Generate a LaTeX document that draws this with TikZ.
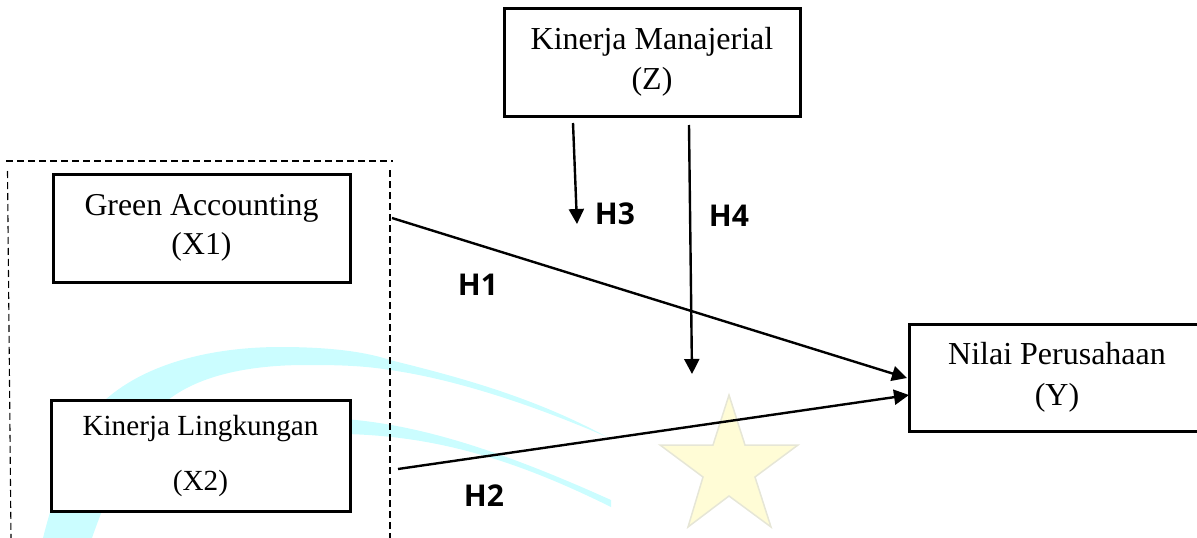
\documentclass[tikz,border=0pt]{standalone}
\usepackage{fontspec}
\setmainfont{Liberation Serif}
\newfontfamily\hfont{Open Sans}
\usetikzlibrary{arrows.meta}
\tikzset{
  varbox/.style={draw=black,line width=3pt,fill=white,align=center,inner sep=0pt},
  hlabel/.style={font=\hfont\bfseries\fontsize{30}{34}\selectfont,inner sep=0pt},
  link/.style={black,line width=2.4pt},
  linkarrow/.style={link,-{Triangle[length=15pt,width=15pt]}},
  dashline/.style={black,line width=1.1pt,dash pattern=on 7pt off 4pt},
  swoosh/.style={fill=swooshcyan,draw=none}
}
\definecolor{swooshcyan}{HTML}{CBFDFF}
\definecolor{staryellow}{HTML}{FFFCD6}
\definecolor{staredge}{HTML}{E6E6D6}
\begin{document}
\begin{tikzpicture}[x=1pt,y=-1pt]
\useasboundingbox (0,0) rectangle (1197,538);
% watermark
\fill[swoosh] (43,538) .. controls (55,490) and (75,435) .. (105,400)
  .. controls (150,360) and (220,347) .. (280,347)
  .. controls (320,347) and (360,350) .. (390,360)
  .. controls (450,375) and (530,395) .. (607,437)
  .. controls (540,408) and (460,380) .. (390,370)
  .. controls (360,365) and (330,365) .. (306,365)
  .. controls (250,365) and (200,375) .. (168,400)
  .. controls (130,440) and (105,500) .. (92,538) -- cycle;
\fill[swoosh] (345,419) .. controls (420,425) and (500,450) .. (611,500)
  -- (611,507) .. controls (520,462) and (440,436) .. (345,434) -- cycle;
\fill[staryellow,draw=staredge,line width=1.5pt]
  (729,395) -- (745,445) -- (798,445) -- (755,477) -- (771,527)
  -- (729,496) -- (688,527) -- (703,477) -- (660,445) -- (713,445) -- cycle;
% dashed group
\coordinate (gtl) at (6,161);
\coordinate (gtr) at (393,161);
\coordinate (gl1) at (7.5,171);
\coordinate (gl2) at (11,538);
\coordinate (gr1) at (390,170);
\coordinate (gr2) at (390,538);
\draw[dashline] (gtl) -- (gtr);
\draw[dashline] (gl1) -- (gl2);
\draw[dashline] (gr1) -- (gr2);
% boxes
\node[varbox,minimum width=297pt,minimum height=108pt,font=\fontsize{31.8}{39}\selectfont] (x1) at (201.5,228) {Green Accounting\\(X1)};
\node[varbox,minimum width=299pt,minimum height=111pt,font=\fontsize{29.2}{55}\selectfont] (x2) at (200.5,455.5) {\raisebox{-3pt}{Kinerja Lingkungan}\\\raisebox{-3pt}{(X2)}};
\node[varbox,minimum width=296pt,minimum height=108pt,font=\fontsize{32}{40}\selectfont] (z) at (652,62) {Kinerja Manajerial\\(Z)};
\node[varbox,minimum width=296pt,minimum height=107pt,font=\fontsize{32}{41}\selectfont] (y) at (1057,377.5) {Nilai Perusahaan\\(Y)};
% connector ends
\coordinate (a1s) at (392,218);
\coordinate (a1e) at (907,378);
\coordinate (a2s) at (398,469);
\coordinate (a2e) at (909,395);
\coordinate (a3s) at (573,123);
\coordinate (a3e) at (577,224);
\coordinate (a4s) at (689,125);
\coordinate (a4e) at (692,374);
\draw[linkarrow] (a1s) -- (a1e);
\draw[linkarrow] (a2s) -- (a2e);
\draw[linkarrow] (a3s) -- (a3e);
\draw[linkarrow] (a4s) -- (a4e);
% labels
\node[hlabel] (h1) at (478,285) {H1};
\node[hlabel] (h2) at (484,496) {H2};
\node[hlabel] (h3) at (615,214) {H3};
\node[hlabel] (h4) at (729,216) {H4};
\end{tikzpicture}
\end{document}
